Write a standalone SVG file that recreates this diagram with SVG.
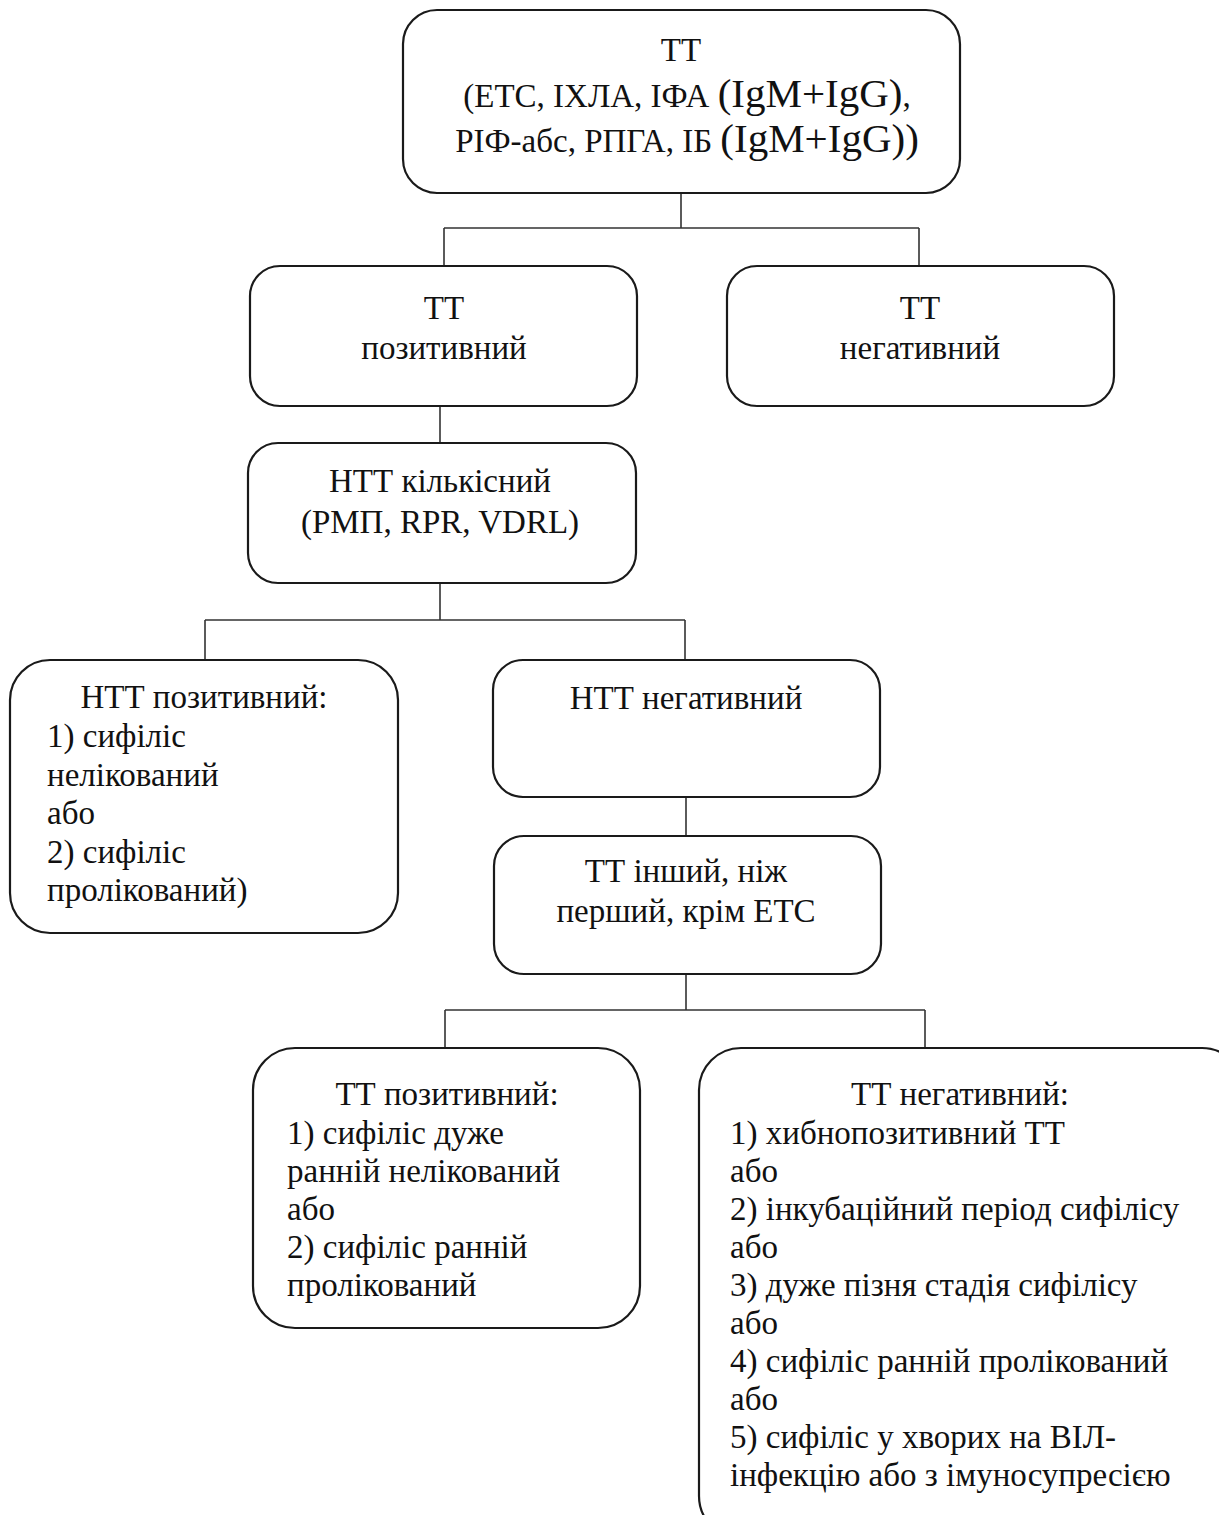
<svg xmlns="http://www.w3.org/2000/svg" width="1219" height="1515" viewBox="0 0 1219 1515">
<style>
.box{fill:#fff;stroke:#1a1a1a;stroke-width:2.2}
.ln{fill:none;stroke:#333;stroke-width:1.6}
text{font-family:"Liberation Serif","Times New Roman",serif;font-size:33px;fill:#111}
.c{text-anchor:middle}
.big{font-size:41px}
</style>
<rect width="1219" height="1515" fill="#fff"/>
<g id="connectors">
<path class="ln" d="M681 193V228M444 228H919M444 228V266M919 228V266"/>
<path class="ln" d="M440 406V443"/>
<path class="ln" d="M440 583V620M205 620H685M205 620V660M685 620V660"/>
<path class="ln" d="M686 797V836"/>
<path class="ln" d="M686 974V1010M445 1010H925M445 1010V1048M925 1010V1048"/>
</g>
<g id="n_top">
<rect class="box" x="403" y="10" width="557" height="183" rx="34"/>
<text class="c" x="681" y="61">ТТ</text>
<text class="c" x="687" y="107">(ЕТС, ІХЛА, ІФА <tspan class="big">(IgM+IgG)</tspan>,</text>
<text class="c" x="687" y="152">РІФ-абс, РПГА, ІБ <tspan class="big">(IgM+IgG))</tspan></text>
</g>
<g id="n_tt_pos">
<rect class="box" x="250" y="266" width="387" height="140" rx="30"/>
<text class="c" x="444" y="319">ТТ</text>
<text class="c" x="444" y="359">позитивний</text>
</g>
<g id="n_tt_neg">
<rect class="box" x="727" y="266" width="387" height="140" rx="30"/>
<text class="c" x="920" y="319">ТТ</text>
<text class="c" x="920" y="359">негативний</text>
</g>
<g id="n_ntt_quant">
<rect class="box" x="248" y="443" width="388" height="140" rx="30"/>
<text class="c" x="440" y="492">НТТ кількісний</text>
<text class="c" x="440" y="533">(РМП, RPR, VDRL)</text>
</g>
<g id="n_ntt_pos">
<rect class="box" x="10" y="660" width="388" height="273" rx="40"/>
<text class="c" x="204" y="708">НТТ позитивний:</text>
<text x="47" y="747">1) сифіліс</text>
<text x="47" y="786">нелікований</text>
<text x="47" y="824">або</text>
<text x="47" y="863">2) сифіліс</text>
<text x="47" y="901">пролікований)</text>
</g>
<g id="n_ntt_neg">
<rect class="box" x="493" y="660" width="387" height="137" rx="30"/>
<text class="c" x="686" y="709">НТТ негативний</text>
</g>
<g id="n_tt_other">
<rect class="box" x="494" y="836" width="387" height="138" rx="30"/>
<text class="c" x="686" y="882">ТТ інший, ніж</text>
<text class="c" x="686" y="922">перший, крім ЕТС</text>
</g>
<g id="n_tt_pos2">
<rect class="box" x="253" y="1048" width="387" height="280" rx="42"/>
<text class="c" x="447" y="1105">ТТ позитивний:</text>
<text x="287" y="1144">1) сифіліс дуже</text>
<text x="287" y="1182">ранній нелікований</text>
<text x="287" y="1220">або</text>
<text x="287" y="1258">2) сифіліс ранній</text>
<text x="287" y="1296">пролікований</text>
</g>
<g id="n_tt_neg2">
<rect class="box" x="699" y="1048" width="545" height="490" rx="42"/>
<text class="c" x="960" y="1105">ТТ негативний:</text>
<text x="730" y="1144">1) хибнопозитивний ТТ</text>
<text x="730" y="1182">або</text>
<text x="730" y="1220">2) інкубаційний період сифілісу</text>
<text x="730" y="1258">або</text>
<text x="730" y="1296">3) дуже пізня стадія сифілісу</text>
<text x="730" y="1334">або</text>
<text x="730" y="1372">4) сифіліс ранній пролікований</text>
<text x="730" y="1410">або</text>
<text x="730" y="1448">5) сифіліс у хворих на ВІЛ-</text>
<text x="730" y="1486">інфекцію або з імуносупресією</text>
</g>
</svg>
